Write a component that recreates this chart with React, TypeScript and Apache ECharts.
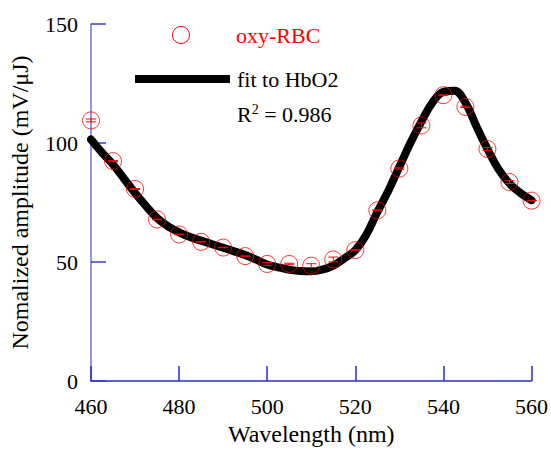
import React, { useEffect, useRef } from "react";
import * as echarts from "echarts";

const wavelengths = [460, 465, 470, 475, 480, 485, 490, 495, 500, 505, 510, 515, 520, 525, 530, 535, 540, 545, 550, 555, 560];
const oxyRBC = [109.5, 92.4, 80.7, 67.9, 61.6, 58.5, 56.1, 52.5, 49.2, 49.2, 48.5, 51.1, 55.0, 71.7, 89.3, 107.4, 120.1, 115.2, 97.5, 83.6, 75.8];
const oxyErr = [0.6, 0.2, 0.2, 0.1, 0.1, 0.1, 0.1, 0.1, 0.6, 0.3, 0.8, 1.0, 0.2, 0.2, 0.3, 1.0, 0.2, 0.3, 0.6, 0.6, 0.1];

const fitWavelengths = [460, 462.5, 465, 467.5, 470, 472.5, 475, 477.5, 480, 482.5, 485, 487.5, 490, 492.5, 495, 497.5, 500, 502.5, 505, 507.5, 510, 512.5, 515, 517.5, 520, 522.5, 525, 527.5, 530, 532.5, 535, 537.5, 540, 542.5, 545, 547.5, 550, 552.5, 555, 557.5, 560];
const fitHbO2 = [101.5, 96, 91, 85, 79, 73.5, 68.5, 65, 62.5, 60.5, 59, 57.5, 56, 54.5, 53, 51, 49, 47.8, 46.8, 46.2, 46.1, 46.8, 48.5, 51.5, 55, 61.5, 71, 80, 90, 100, 109, 117, 121.5, 122, 117, 107, 97.5, 89, 83, 79, 76];

const xTicks = { min: 460, max: 560, interval: 20 };
const yTicks = { min: 0, max: 150, interval: 50 };

const FONT = "Times New Roman";

export default function App() {
  const ref = useRef<HTMLDivElement>(null);
  useEffect(() => {
    if (!ref.current) return;
    const chart = echarts.init(ref.current, undefined, { renderer: "svg" });
    const option: any = {
      animation: false,
      backgroundColor: "#ffffff",
      textStyle: { fontFamily: FONT },
      grid: { left: 91, right: 19, top: 24, bottom: 67, containLabel: false },
      xAxis: {
        type: "value",
        min: xTicks.min,
        max: xTicks.max,
        interval: xTicks.interval,
        name: "Wavelength (nm)",
        nameLocation: "middle",
        nameGap: 38,
        nameTextStyle: { fontFamily: FONT, fontSize: 24, color: "#000" },
        axisLine: { show: true, lineStyle: { color: "#2a2ad6", width: 1.5 } },
        axisTick: { show: true, inside: true, length: 15, lineStyle: { color: "#2a2ad6", width: 1.5 } },
        axisLabel: { fontFamily: FONT, fontSize: 22, color: "#000", margin: 14 },
        splitLine: { show: false },
      },
      yAxis: {
        type: "value",
        min: yTicks.min,
        max: yTicks.max,
        interval: yTicks.interval,
        name: "Nomalized amplitude (mV/μJ)",
        nameLocation: "middle",
        nameGap: 59,
        nameRotate: 90,
        nameTextStyle: { fontFamily: FONT, fontSize: 24, color: "#000" },
        axisLine: { show: true, lineStyle: { color: "#6f6fe8", width: 1.5 } },
        axisTick: { show: true, inside: true, length: 15, lineStyle: { color: "#3a3ada", width: 1.5 } },
        axisLabel: { fontFamily: FONT, fontSize: 22, color: "#000", margin: 13 },
        splitLine: { show: false },
      },
      series: [
        {
          type: "line",
          name: "fit to HbO2",
          data: fitWavelengths.map((w, i) => [w, fitHbO2[i]]),
          smooth: 0.4,
          showSymbol: false,
          lineStyle: { color: "#000", width: 8, cap: "round", join: "round" },
          z: 2,
        },
        {
          type: "scatter",
          name: "oxy-RBC",
          data: wavelengths.map((w, i) => [w, oxyRBC[i]]),
          symbol: "circle",
          symbolSize: 17,
          itemStyle: { color: "transparent", borderColor: "#ff0000", borderWidth: 1 },
          z: 4,
        },
        {
          type: "custom",
          name: "err",
          data: wavelengths.map((w, i) => [w, oxyRBC[i], oxyErr[i]]),
          renderItem: (params: any, api: any) => {
            const x = api.value(0);
            const y = api.value(1);
            const e = api.value(2);
            const t = api.coord([x, y + e]);
            const b = api.coord([x, y - e]);
            const st = { stroke: "#ff0000", lineWidth: 1 };
            return {
              type: "group",
              children: [
                { type: "line", shape: { x1: t[0] - 5, y1: t[1], x2: t[0] + 5, y2: t[1] }, style: st },
                { type: "line", shape: { x1: b[0] - 5, y1: b[1], x2: b[0] + 5, y2: b[1] }, style: st },
                { type: "line", shape: { x1: t[0], y1: t[1], x2: b[0], y2: b[1] }, style: st },
              ],
            };
          },
          z: 5,
        },
      ],
      graphic: [
        { type: "circle", shape: { cx: 181, cy: 35, r: 8.5 }, style: { fill: "transparent", stroke: "#ff0000", lineWidth: 1 } },
        { type: "text", x: 236, y: 35, style: { text: "oxy-RBC", fill: "#ff0000", fontFamily: FONT, fontSize: 22, verticalAlign: "middle" } },
        { type: "line", shape: { x1: 135, y1: 79, x2: 230, y2: 79 }, style: { stroke: "#000", lineWidth: 8 } },
        { type: "text", x: 237, y: 79, style: { text: "fit to HbO2", fill: "#000", fontFamily: FONT, fontSize: 22, verticalAlign: "middle" } },
        {
          type: "text",
          x: 237,
          y: 114,
          style: {
            text: "R{sup|2} = 0.986",
            fill: "#000",
            fontFamily: FONT,
            fontSize: 22,
            verticalAlign: "middle",
            rich: { sup: { fontSize: 14, fontFamily: FONT, verticalAlign: "top", padding: [0, 0, 10, 0] } },
          },
        },
      ],
    };
    chart.setOption(option);
    return () => chart.dispose();
  }, []);
  return <div ref={ref} style={{ position: "absolute", left: 0, top: 0, width: 551, height: 451 }} />;
}
